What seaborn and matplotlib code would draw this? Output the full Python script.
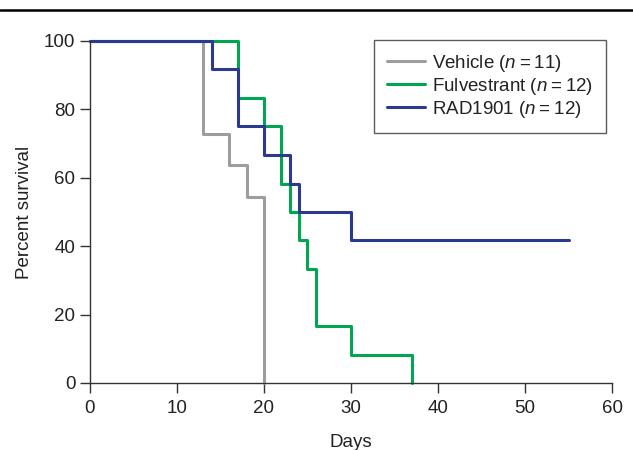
import pandas as pd
import matplotlib
matplotlib.use("Agg")
import matplotlib.pyplot as plt
import seaborn as sns

# Kaplan-Meier step values
vehicle_days = [0, 13, 16, 18, 20]
vehicle_surv = [100, 72.7, 63.6, 54.5, 0]

fulv_days = [0, 17, 20, 22, 23, 24, 25, 26, 30, 37]
fulv_surv = [100, 83.3, 75, 58.3, 50, 41.7, 33.3, 16.7, 8.3, 0]

rad_days = [0, 14, 17, 20, 23, 24, 30, 55]
rad_surv = [100, 91.7, 75, 66.7, 58.3, 50, 41.7, 41.7]

groups = ["Vehicle ($n$\u2009=\u200911)", "Fulvestrant ($n$\u2009=\u200912)",
          "RAD1901 ($n$\u2009=\u200912)"]
colors = ["#9d9d9f", "#00a650", "#2b3990"]

x_ticks = [0, 10, 20, 30, 40, 50, 60]
y_ticks = [0, 20, 40, 60, 80, 100]

frames = []
for name, d, s in zip(groups, [vehicle_days, fulv_days, rad_days],
                      [vehicle_surv, fulv_surv, rad_surv]):
    frames.append(pd.DataFrame({"Days": d, "Survival": s, "Group": name}))
df = pd.concat(frames, ignore_index=True)

sns.set_style("ticks")
plt.rcParams["font.family"] = ["Liberation Sans", "DejaVu Sans"]
plt.rcParams["mathtext.fontset"] = "custom"
plt.rcParams["mathtext.it"] = "Liberation Sans:italic"
plt.rcParams["mathtext.rm"] = "Liberation Sans"

fs = 13.5
txt = "#222222"

fig = plt.figure(figsize=(6.33, 4.5), dpi=100)
ax = fig.add_axes([0.142, 0.149, 0.825, 0.76])

sns.lineplot(data=df, x="Days", y="Survival", hue="Group", palette=colors,
             estimator=None, drawstyle="steps-post", linewidth=2.2,
             ax=ax, clip_on=False)

ax.set_xlim(0, 60)
ax.set_ylim(0, 100)
ax.set_xticks(x_ticks)
ax.set_yticks(y_ticks)
ax.tick_params(axis="both", labelsize=fs, length=7.5, width=1, color="#333333",
               labelcolor=txt, direction="out")
ax.tick_params(axis="x", pad=5)
ax.tick_params(axis="y", pad=3)
for side in ["top", "right"]:
    ax.spines[side].set_visible(False)
for side in ["left", "bottom"]:
    ax.spines[side].set_color("#333333")
    ax.spines[side].set_linewidth(1)

ax.set_xlabel("Days", fontsize=fs, color=txt, labelpad=12)
ax.set_ylabel("Percent survival", fontsize=fs, color=txt, labelpad=8)

leg = ax.legend(loc="upper right", bbox_to_anchor=(1.0, 1.02), fontsize=fs,
                frameon=True, fancybox=False, edgecolor="#333333",
                handlelength=2.0, handletextpad=0.4, borderpad=0.7,
                labelspacing=0.1, borderaxespad=0.3)
leg.get_frame().set_linewidth(1)
for t in leg.get_texts():
    t.set_color(txt)

# thin rule across the top of the panel
fig.add_artist(plt.Line2D([0, 1], [0.977, 0.977], color="black", linewidth=1.8,
                          transform=fig.transFigure))

fig.savefig("out.png", dpi=100)
